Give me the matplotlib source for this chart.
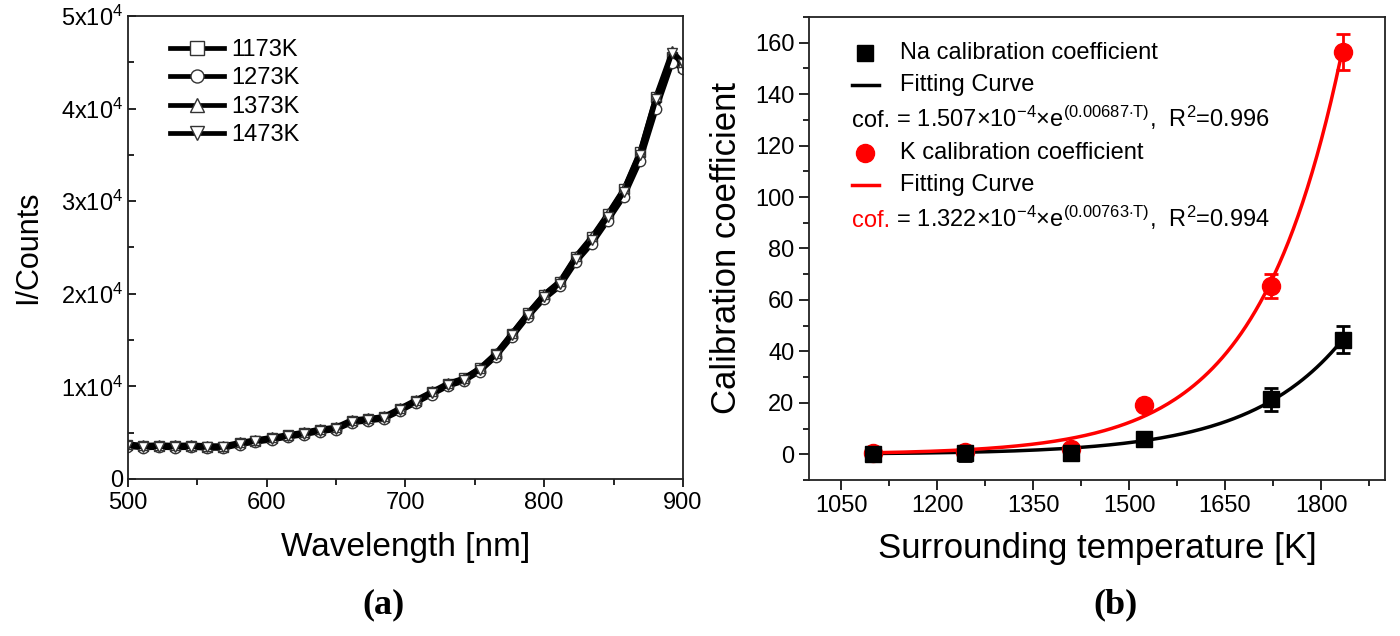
import numpy as np
import matplotlib
matplotlib.use("Agg")
import matplotlib.pyplot as plt
from matplotlib.lines import Line2D
from matplotlib.ticker import MultipleLocator, FixedLocator, FuncFormatter

plt.rcParams['font.family'] = ['Liberation Sans', 'DejaVu Sans']
plt.rcParams['mathtext.fontset'] = 'custom'
plt.rcParams['mathtext.rm'] = 'Liberation Sans'
plt.rcParams['mathtext.it'] = 'Liberation Sans'

# (a) spectra
wavelength = [499.5, 511, 522.6, 534.2, 545.7, 557.3, 568.8, 580.4, 591.9, 603.5,
              615, 626.6, 638.1, 649.7, 661.2, 672.8, 684.3, 695.9, 707.4, 719,
              730.5, 742.1, 753.6, 765.2, 776.7, 788.3, 799.8, 811.4, 822.9, 834.5,
              846, 857.6, 869.1, 880.7, 892.2, 900]
counts_1173 = [3700, 3550, 3600, 3550, 3550, 3500, 3500, 3850, 4150, 4400,
               4700, 4950, 5300, 5500, 6300, 6450, 6650, 7550, 8450, 9350,
               10250, 10850, 11950, 13500, 15700, 17900, 19900, 21300, 24000, 26100,
               28600, 31300, 35300, 41300, 45600, 44500]
counts_1273 = [3500, 3350, 3400, 3350, 3400, 3300, 3300, 3700, 3950, 4200,
               4500, 4750, 5100, 5300, 6050, 6250, 6450, 7300, 8200, 9100,
               10000, 10550, 11600, 13200, 15300, 17500, 19400, 20800, 23400, 25400,
               27900, 30500, 34300, 39900, 44900, 44300]
counts_1373 = [3800, 3650, 3700, 3650, 3700, 3600, 3600, 3950, 4250, 4500,
               4800, 5050, 5400, 5600, 6400, 6550, 6750, 7650, 8550, 9450,
               10350, 10900, 12000, 13600, 15750, 17950, 19950, 21400, 24100, 26200,
               28700, 31400, 35400, 41400, 46200, 45000]
counts_1473 = [3600, 3450, 3500, 3450, 3500, 3400, 3400, 3800, 4050, 4300,
               4600, 4850, 5200, 5400, 6200, 6350, 6550, 7450, 8350, 9250,
               10150, 10700, 11800, 13400, 15500, 17700, 19700, 21100, 23800, 25800,
               28300, 31000, 35000, 41000, 46000, 44800]
spectra = [('1173K', counts_1173, 's'), ('1273K', counts_1273, 'o'),
           ('1373K', counts_1373, '^'), ('1473K', counts_1473, 'v')]

# (b) calibration coefficients
temperature = [1100, 1243, 1410, 1523, 1722, 1834]
na_coef = [0.2, 0.3, 0.3, 6.0, 21.3, 44.6]
na_err = [0.5, 3.0, 2.0, 1.5, 4.5, 5.3]
k_coef = [0.5, 0.8, 2.0, 19.3, 65.4, 156.2]
k_err = [0.3, 0.5, 1.0, 1.0, 4.8, 7.0]
na_fit = (1.507e-4, 0.00687)
k_fit = (1.322e-4, 0.00763)

fig = plt.figure(figsize=(14, 6.36), dpi=100)
ax1 = fig.add_axes([0.0914, 0.2469, 0.3964, 0.728])
ax2 = fig.add_axes([0.5779, 0.2453, 0.4114, 0.728])

# ---- panel (a)
for label, y, m in spectra:
    ax1.plot(wavelength, y, color='black', lw=3.4, marker=m, ms=7.5,
             mfc='white', mec='#333333', mew=1.0, label=label)
ax1.set_xlim(500, 900)
ax1.set_ylim(0, 50000)
ax1.xaxis.set_major_locator(MultipleLocator(100))
ax1.xaxis.set_minor_locator(MultipleLocator(50))
ax1.yaxis.set_major_locator(MultipleLocator(10000))
ax1.yaxis.set_minor_locator(MultipleLocator(5000))
ax1.yaxis.set_major_formatter(FuncFormatter(
    lambda v, p: '0' if v == 0 else r'%dx10$^{4}$' % round(v / 10000)))
ax1.tick_params(axis='x', which='both', direction='out', labelsize=17, width=1.2)
ax1.tick_params(axis='x', which='major', length=6)
ax1.tick_params(axis='x', which='minor', length=4)
ax1.tick_params(axis='y', which='both', direction='in', labelsize=17, width=1.2)
ax1.tick_params(axis='y', which='major', length=6)
ax1.tick_params(axis='y', which='minor', length=4)
ax1.set_xlabel('Wavelength [nm]', fontsize=24)
ax1.xaxis.set_label_coords(0.5, -0.115)
ax1.set_ylabel('I/Counts', fontsize=22)
ax1.yaxis.set_label_coords(-0.153, 0.5)
ax1.legend(loc='upper left', bbox_to_anchor=(0.0757, 0.95), frameon=False,
           borderpad=0, borderaxespad=0, handlelength=2.3, handletextpad=0.3,
           labelspacing=0.27, fontsize=17, markerscale=1.25)

# ---- panel (b)
T_fit = np.linspace(temperature[0], temperature[-1], 200)
ax2.plot(T_fit, na_fit[0] * np.exp(na_fit[1] * T_fit), color='black', lw=2.5, zorder=2)
ax2.plot(T_fit, k_fit[0] * np.exp(k_fit[1] * T_fit), color='red', lw=2.5, zorder=2)
ax2.errorbar(temperature, k_coef, yerr=k_err, fmt='o', color='red', ms=13,
             capsize=5, elinewidth=2, capthick=2, zorder=3)
ax2.errorbar(temperature, na_coef, yerr=na_err, fmt='s', color='black', ms=11,
             capsize=5, elinewidth=2, capthick=2, zorder=4)
ax2.set_xlim(1000, 1900)
ax2.set_ylim(-10, 170)
ax2.xaxis.set_major_locator(FixedLocator([1050, 1200, 1350, 1500, 1650, 1800]))
ax2.xaxis.set_minor_locator(FixedLocator([1125, 1275, 1425, 1575, 1725, 1875]))
ax2.yaxis.set_major_locator(MultipleLocator(20))
ax2.yaxis.set_minor_locator(MultipleLocator(10))
ax2.tick_params(which='both', direction='out', labelsize=17, width=1.2)
ax2.tick_params(which='major', length=7)
ax2.tick_params(which='minor', length=4)
ax2.set_xlabel('Surrounding temperature [K]', fontsize=25)
ax2.xaxis.set_label_coords(0.5, -0.113)
ax2.set_ylabel('Calibration coefficient', fontsize=25)
ax2.yaxis.set_label_coords(-0.114, 0.5)

for a in (ax1, ax2):
    for s in a.spines.values():
        s.set_linewidth(1.3)
        s.set_color('#222222')

# legend of panel (b), built by hand
tr = ax2.transAxes
lx0, lx1, mx, tx = 0.0741, 0.1215, 0.0972, 0.158
rows = [0.9216, 0.853, 0.7775, 0.7056, 0.637, 0.5616]
fs = 17
ax2.add_line(Line2D([mx], [rows[0]], transform=tr, marker='s', ms=11, color='black', ls='none'))
ax2.text(tx, rows[0], 'Na calibration coefficient', transform=tr, va='center', fontsize=fs)
ax2.add_line(Line2D([lx0, lx1], [rows[1]] * 2, transform=tr, color='black', lw=2.5))
ax2.text(tx, rows[1], 'Fitting Curve', transform=tr, va='center', fontsize=fs)
eq_na = (' = 1.507\u00d710$^{-4}$\u00d7e$^{(0.00687{\\cdot}\\mathrm{T})}$,  R$^{2}$=0.996')
eq_k = (' = 1.322\u00d710$^{-4}$\u00d7e$^{(0.00763{\\cdot}\\mathrm{T})}$,  R$^{2}$=0.994')
c1 = ax2.text(lx0, rows[2] - 0.015, 'cof.', transform=tr, va='baseline', fontsize=fs)
ax2.add_line(Line2D([mx], [rows[3]], transform=tr, marker='o', ms=13, color='red', ls='none'))
ax2.text(tx, rows[3], 'K calibration coefficient', transform=tr, va='center', fontsize=fs)
ax2.add_line(Line2D([lx0, lx1], [rows[4]] * 2, transform=tr, color='red', lw=2.5))
ax2.text(tx, rows[4], 'Fitting Curve', transform=tr, va='center', fontsize=fs)
c2 = ax2.text(lx0, rows[5] - 0.015, 'cof.', transform=tr, va='baseline', fontsize=fs, color='red')

fig.canvas.draw()
for c, eq, y in ((c1, eq_na, rows[2]), (c2, eq_k, rows[5])):
    bb = c.get_window_extent()
    xx = tr.inverted().transform((bb.x1, bb.y0))[0]
    ax2.text(xx, y - 0.015, eq, transform=tr, va='baseline', fontsize=fs)

fig.text(0.274, 0.049, '(a)', ha='center', va='center', fontsize=26,
         fontweight='bold', family='Liberation Serif')
fig.text(0.797, 0.049, '(b)', ha='center', va='center', fontsize=26,
         fontweight='bold', family='Liberation Serif')

fig.savefig('out.png', dpi=100)
